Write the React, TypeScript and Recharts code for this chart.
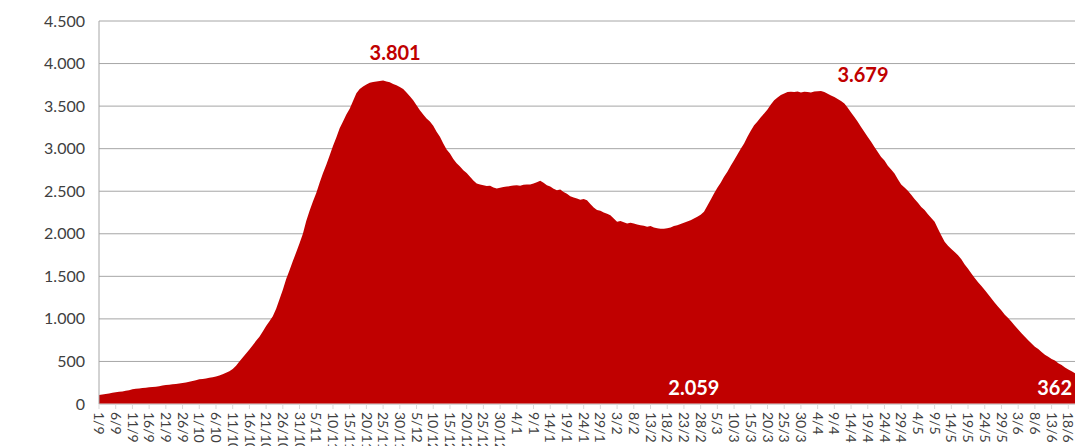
import { AreaChart, Area, XAxis, YAxis, CartesianGrid } from 'recharts'

// daily active cases, one array per month (Sept -> June)
const sep = [106, 112, 118, 124, 131, 137, 143, 148, 155, 163, 173, 178, 183, 187, 192, 197, 201, 204, 210, 216, 223, 227, 231, 236, 240, 246, 252, 262, 270, 279]
const oct = [290, 295, 301, 308, 314, 322, 335, 350, 366, 386, 410, 450, 500, 545, 592, 640, 690, 742, 790, 852, 915, 972, 1030, 1118, 1230, 1342, 1468, 1572, 1680, 1782, 1890]
const nov = [2000, 2150, 2270, 2380, 2480, 2600, 2710, 2810, 2920, 3030, 3130, 3240, 3320, 3400, 3470, 3560, 3650, 3700, 3730, 3755, 3775, 3782, 3790, 3795, 3801, 3790, 3780, 3760, 3745, 3725]
const dec = [3700, 3660, 3615, 3569, 3510, 3450, 3400, 3354, 3320, 3270, 3200, 3140, 3060, 2990, 2943, 2880, 2830, 2790, 2747, 2715, 2670, 2625, 2591, 2580, 2570, 2560, 2565, 2545, 2532, 2540, 2550]
const jan = [2555, 2560, 2568, 2571, 2565, 2575, 2580, 2578, 2590, 2605, 2622, 2600, 2570, 2555, 2530, 2512, 2520, 2490, 2470, 2440, 2425, 2415, 2400, 2410, 2395, 2350, 2310, 2278, 2270, 2250, 2235]
const feb = [2219, 2180, 2141, 2150, 2135, 2120, 2130, 2121, 2110, 2100, 2095, 2082, 2090, 2075, 2065, 2060, 2059, 2065, 2075, 2090, 2101, 2115, 2130, 2145, 2160, 2180, 2200, 2225]
const mar = [2258, 2330, 2400, 2474, 2540, 2600, 2669, 2730, 2800, 2865, 2930, 3000, 3061, 3140, 3210, 3275, 3320, 3370, 3413, 3460, 3520, 3569, 3600, 3630, 3648, 3665, 3670, 3665, 3672, 3660, 3668]
const apr = [3667, 3660, 3672, 3675, 3679, 3665, 3645, 3625, 3608, 3585, 3560, 3530, 3480, 3425, 3373, 3315, 3255, 3195, 3138, 3080, 3020, 2960, 2903, 2860, 2800, 2755, 2708, 2640, 2580, 2545]
const may = [2505, 2460, 2410, 2365, 2316, 2280, 2230, 2185, 2141, 2060, 1980, 1905, 1860, 1820, 1785, 1749, 1700, 1640, 1590, 1534, 1480, 1430, 1385, 1338, 1290, 1240, 1190, 1142, 1100, 1050, 1010]
const jun = [966, 920, 875, 830, 790, 750, 710, 673, 645, 610, 580, 555, 530, 510, 480, 458, 430, 405, 385, 362]

const months: [number, number[]][] = [
  [9, sep], [10, oct], [11, nov], [12, dec], [1, jan],
  [2, feb], [3, mar], [4, apr], [5, may], [6, jun],
]

const yTicks = [0, 500, 1000, 1500, 2000, 2500, 3000, 3500, 4000, 4500]
const callouts = [3801, 3679, 2059, 362]

const data = months.flatMap(([m, vals]) =>
  vals.map((v, i) => ({ day: `${i + 1}/${m}`, value: v }))
)
const calloutIdx = callouts.map((c) => data.findIndex((d) => d.value === c))

const W = 1075
const H = 530
const TOP = 21
const X_AXIS_H = 126
const PLOT_BOTTOM = H - X_AXIS_H
const RED = '#C00000'
const FONT = 'Lato, "Open Sans", sans-serif'

const fmt = (v: number) => String(v).replace(/\B(?=(\d{3})+(?!\d))/g, '.')

const calloutStyle: Record<number, { dx: number; dy?: number; bottom?: boolean; fill: string; anchor: 'middle' | 'end' }> = {
  3801: { dx: 12, dy: -20, fill: RED, anchor: 'middle' },
  3679: { dx: 42, dy: -9, fill: RED, anchor: 'middle' },
  2059: { dx: 30, bottom: true, fill: '#fff', anchor: 'middle' },
  362: { dx: -3, bottom: true, fill: '#fff', anchor: 'end' },
}

export default function App() {
  return (
    <div style={{ position: 'fixed', left: 0, top: 0, width: W, height: 446, overflow: 'hidden', background: '#fff' }}>
      <AreaChart width={W} height={H} data={data} margin={{ top: TOP, right: 0, left: 0, bottom: 0 }}>
        <CartesianGrid vertical={false} stroke="#A6A6A6" strokeWidth={1} />
        <XAxis
          dataKey="day"
          interval={4}
          height={X_AXIS_H}
          axisLine={{ stroke: '#D9D9D9' }}
          tickLine={{ stroke: '#D9D9D9' }}
          tickSize={5}
          tick={renderXTick}
        />
        <YAxis
          domain={[0, 4500]}
          ticks={yTicks}
          width={99}
          axisLine={{ stroke: '#A6A6A6' }}
          tickLine={false}
          tick={renderYTick}
        />
        <Area
          type="linear"
          dataKey="value"
          stroke="none"
          fill={RED}
          fillOpacity={1}
          isAnimationActive={false}
          label={renderCallout as any}
        />
      </AreaChart>
    </div>
  )
}

function renderXTick(props: any) {
  const { x, y, payload } = props
  return (
    <text
      x={x}
      y={y + 1}
      dy="0.35em"
      transform={`rotate(90, ${x}, ${y + 1})`}
      textAnchor="start"
      fontSize={14}
      fontFamily={FONT}
      fill="#404040"
    >
      {payload.value}
    </text>
  )
}

function renderYTick(props: any) {
  const { y, payload } = props
  return (
    <text x={85} y={y} dy="0.35em" textAnchor="end" fontSize={16} fontFamily={FONT} fill="#404040">
      {fmt(payload.value)}
    </text>
  )
}

function renderCallout(props: { x?: number | string; y?: number | string; value?: number | string; index?: number }) {
  const { x, y, value, index } = props
  if (index === undefined || !calloutIdx.includes(index)) return <g key={`c-${index}`} />
  const nx = Number(x)
  const ny = Number(y)
  const nv = Number(value)
  const s = calloutStyle[nv]
  if (!s) return <g key={`c-${index}`} />
  return (
    <text
      key={`c-${index}`}
      x={nx + s.dx}
      y={s.bottom ? PLOT_BOTTOM - 9 : ny + (s.dy ?? 0)}
      textAnchor={s.anchor}
      fontSize={20}
      fontWeight={700}
      fontFamily={FONT}
      fill={s.fill}
    >
      {fmt(nv)}
    </text>
  )
}
